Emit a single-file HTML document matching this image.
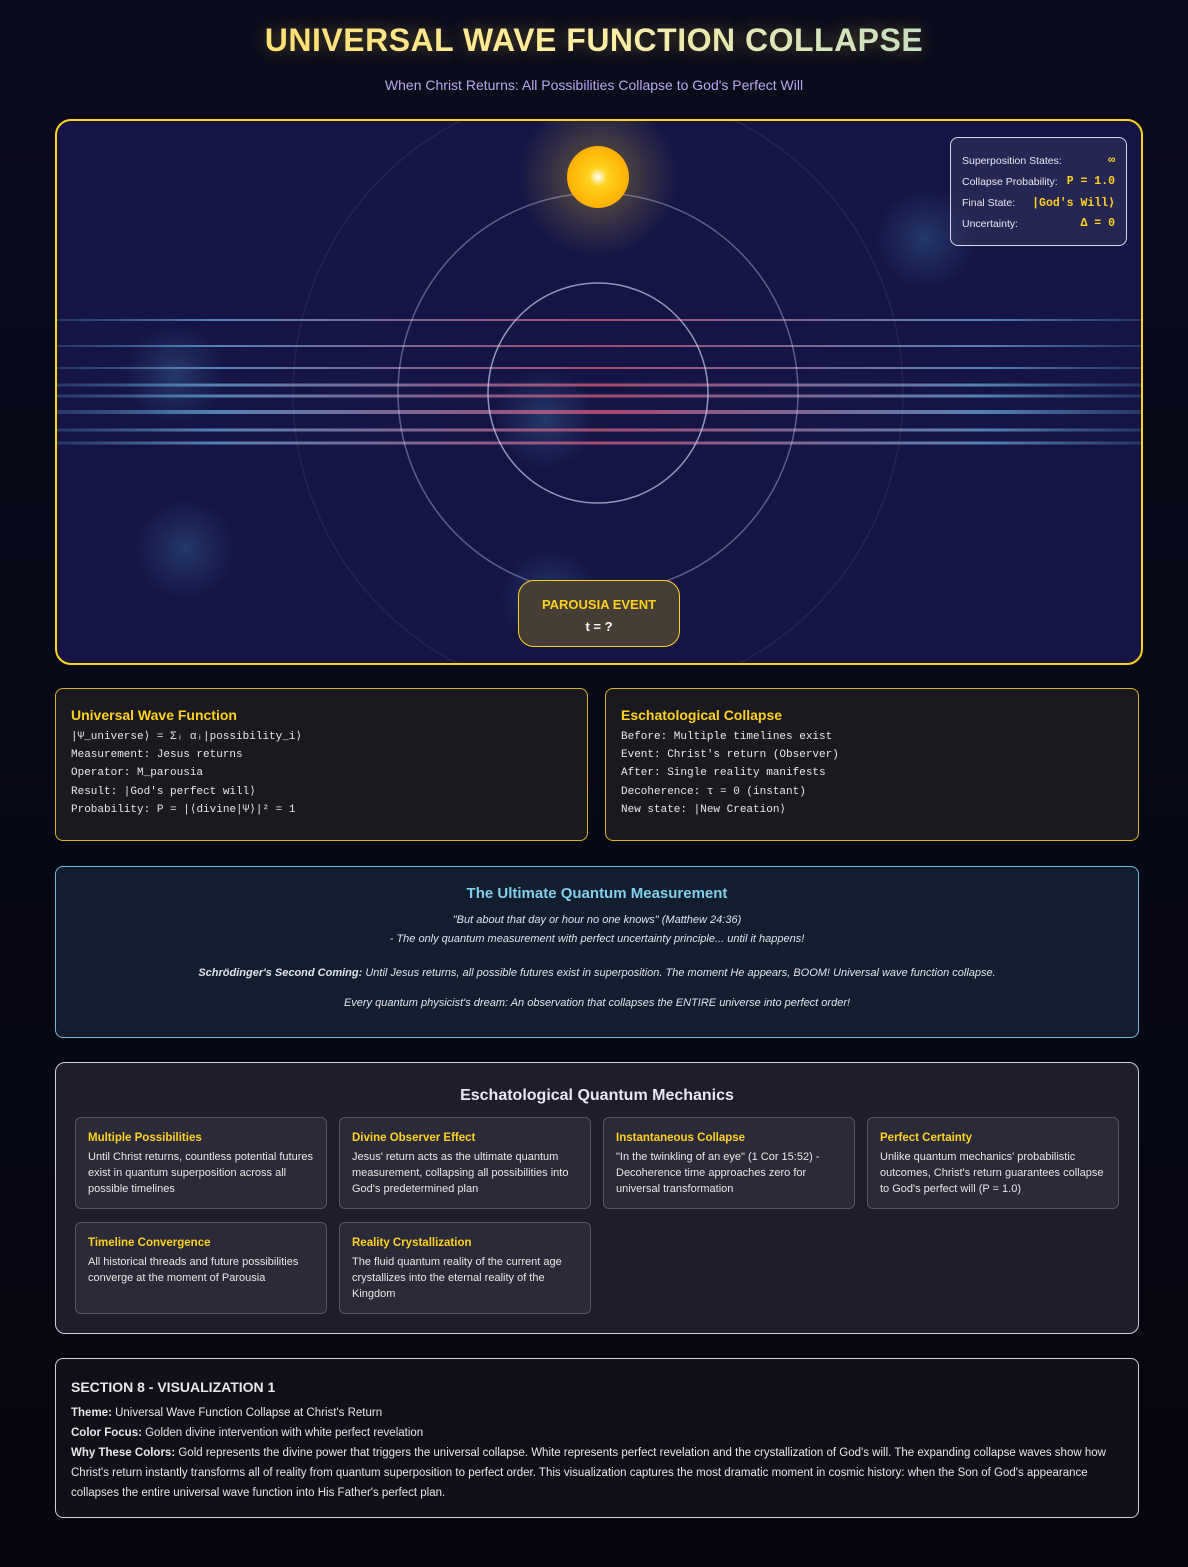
<!DOCTYPE html>
<html><head><meta charset="utf-8"><style>
*{box-sizing:border-box;margin:0;padding:0}
body{width:1188px;height:1567px;background:linear-gradient(#0a0b1c,#05060f);font-family:"Liberation Sans",sans-serif;color:#e8e8f0;position:relative;overflow:hidden}
h1{position:absolute;top:22px;left:0;width:1188px;text-align:center;font-size:32px;font-weight:bold;letter-spacing:0.5px;background:linear-gradient(90deg,#ffd54a,#fff3b0 50%,#8fd3e8);-webkit-background-clip:text;color:transparent;text-shadow:0 0 18px rgba(255,215,80,.35)}
.sub{position:absolute;top:77px;width:1188px;text-align:center;font-size:14px;color:#b7a9f0}
.viz{position:absolute;left:55px;top:119px;width:1088px;height:546px;border:2px solid #ffd21f;border-radius:16px;background:#141544;overflow:hidden}
.stats{position:absolute;left:893px;top:16px;width:177px;height:109px;border:1px solid #d8d8e8;border-radius:8px;background:rgba(60,60,100,.45);font-size:10.5px;padding:12px 11px}
.stats div{height:21px;display:flex;justify-content:space-between;align-items:center}
.stats span.v{font-family:"Liberation Mono",monospace;color:#ffd21f;font-size:11.5px;font-weight:bold}
.par{position:absolute;left:461px;top:459px;width:162px;height:67px;border:1px solid #ffd21f;border-radius:16px;background:#463d34;text-align:center}
.card{position:absolute;border:1px solid #d8b322;border-radius:8px;background:#1b1920;padding:18px 15px}
.card h3{color:#ffd21f;font-size:14px;margin-bottom:5px}
.card pre{font-family:"Liberation Mono",monospace;font-size:11px;line-height:18.2px;color:#e8e8e8}
.quote{position:absolute;left:55px;top:866px;width:1084px;height:172px;border:1px solid #6fb7d3;border-radius:8px;background:#131d30;text-align:center;font-style:italic;font-size:11px;color:#e0e4ee}
.mech{position:absolute;left:55px;top:1062px;width:1084px;height:272px;border:1px solid #cfcfd8;border-radius:10px;background:#1d1d2b}
.mc{position:absolute;width:252px;border:1px solid #555566;border-radius:6px;background:#2a2a38;padding:12px 12px;font-size:11px;line-height:16px;color:#e8e8e8}
.mc b{display:block;color:#ffd21f;font-size:11.5px;margin-bottom:3px}
.sec{position:absolute;left:55px;top:1358px;width:1084px;height:160px;border:1px solid #cfcfd8;border-radius:8px;background:#101018;padding:18px 15px;font-size:11.5px;line-height:20px;color:#e8e8e8}
</style></head><body>
<h1>UNIVERSAL WAVE FUNCTION COLLAPSE</h1>
<div class="sub">When Christ Returns: All Possibilities Collapse to God's Perfect Will</div>
<div class="viz">
<svg id="vz" width="1088" height="546" style="position:absolute;left:-2px;top:-2px"></svg>
<div class="stats">
<div><span>Superposition States:</span><span class="v">∞</span></div>
<div><span>Collapse Probability:</span><span class="v">P = 1.0</span></div>
<div><span>Final State:</span><span class="v">|God's Will⟩</span></div>
<div><span>Uncertainty:</span><span class="v">Δ = 0</span></div>
</div>
<div class="par"><div style="color:#ffd21f;font-weight:bold;font-size:13px;margin-top:16px">PAROUSIA EVENT</div><div style="font-weight:bold;font-size:13px;margin-top:7px;color:#fff">t = ?</div></div>
</div>
<div class="card" style="left:55px;top:688px;width:533px;height:153px"><h3>Universal Wave Function</h3><pre>|Ψ_universe⟩ = Σᵢ αᵢ|possibility_i⟩
Measurement: Jesus returns
Operator: M_parousia
Result: |God's perfect will⟩
Probability: P = |⟨divine|Ψ⟩|² = 1</pre></div>
<div class="card" style="left:605px;top:688px;width:534px;height:153px"><h3>Eschatological Collapse</h3><pre>Before: Multiple timelines exist
Event: Christ's return (Observer)
After: Single reality manifests
Decoherence: τ = 0 (instant)
New state: |New Creation⟩</pre></div>
<div class="quote">
<div style="font-style:normal;font-weight:bold;color:#7fcfec;font-size:15px;margin-top:18px">The Ultimate Quantum Measurement</div>
<div style="margin-top:9px;line-height:19px">"But about that day or hour no one knows" (Matthew 24:36)<br>- The only quantum measurement with perfect uncertainty principle... until it happens!</div>
<div style="margin-top:18px"><b>Schrödinger's Second Coming:</b> Until Jesus returns, all possible futures exist in superposition. The moment He appears, BOOM! Universal wave function collapse.</div>
<div style="margin-top:18px">Every quantum physicist's dream: An observation that collapses the ENTIRE universe into perfect order!</div>
</div>
<div class="mech">
<div style="text-align:center;font-weight:bold;font-size:16px;margin-top:24px">Eschatological Quantum Mechanics</div>
<div class="mc" style="left:19px;top:54px;height:92px"><b>Multiple Possibilities</b>Until Christ returns, countless potential futures exist in quantum superposition across all possible timelines</div>
<div class="mc" style="left:283px;top:54px;height:92px"><b>Divine Observer Effect</b>Jesus' return acts as the ultimate quantum measurement, collapsing all possibilities into God's predetermined plan</div>
<div class="mc" style="left:547px;top:54px;height:92px"><b>Instantaneous Collapse</b>"In the twinkling of an eye" (1 Cor 15:52) - Decoherence time approaches zero for universal transformation</div>
<div class="mc" style="left:811px;top:54px;height:92px"><b>Perfect Certainty</b>Unlike quantum mechanics' probabilistic outcomes, Christ's return guarantees collapse to God's perfect will (P = 1.0)</div>
<div class="mc" style="left:19px;top:159px;height:92px"><b>Timeline Convergence</b>All historical threads and future possibilities converge at the moment of Parousia</div>
<div class="mc" style="left:283px;top:159px;height:92px"><b>Reality Crystallization</b>The fluid quantum reality of the current age crystallizes into the eternal reality of the Kingdom</div>
</div>
<div class="sec">
<div style="font-weight:bold;font-size:14px;margin-bottom:6px">SECTION 8 - VISUALIZATION 1</div>
<div><b>Theme:</b> Universal Wave Function Collapse at Christ's Return</div>
<div><b>Color Focus:</b> Golden divine intervention with white perfect revelation</div>
<div><b>Why These Colors:</b> Gold represents the divine power that triggers the universal collapse. White represents perfect revelation and the crystallization of God's will. The expanding collapse waves show how Christ's return instantly transforms all of reality from quantum superposition to perfect order. This visualization captures the most dramatic moment in cosmic history: when the Son of God's appearance collapses the entire universal wave function into His Father's perfect plan.</div>
</div>
<script>
const waveYs=[201,227,249,266,277,293,311,324];
const waveWidths=[2,2,2,3,3,4,3,3];
const ringRadii=[110,200,305];
const ringOpacity=[0.7,0.4,0.08];
const glowX=[120,130,490,870,495];
const glowY=[255,430,300,120,480];
const svg=document.getElementById('vz');
const NS='http://www.w3.org/2000/svg';
const cx=543,cy=274;
svg.innerHTML='<defs><linearGradient id="wg" x1="0" x2="1"><stop offset="0" stop-color="#5fa8d8" stop-opacity=".3"/><stop offset=".15" stop-color="#6aa6d6"/><stop offset=".5" stop-color="#d85a7a"/><stop offset=".85" stop-color="#6aa6d6"/><stop offset="1" stop-color="#5fa8d8" stop-opacity=".3"/></linearGradient><radialGradient id="sg" cx=".5" cy=".5" r=".5"><stop offset="0" stop-color="#fff"/><stop offset=".3" stop-color="#ffd21f"/><stop offset="1" stop-color="#ffae00"/></radialGradient><radialGradient id="gl"><stop offset="0" stop-color="#ffd040" stop-opacity=".35"/><stop offset="1" stop-color="#ffd040" stop-opacity="0"/></radialGradient><radialGradient id="bl"><stop offset="0" stop-color="#4f86c0" stop-opacity=".3"/><stop offset="1" stop-color="#4f86c0" stop-opacity="0"/></radialGradient></defs>';
glowX.forEach((x,i)=>{const c=document.createElementNS(NS,'circle');


c.setAttribute('cx',x);c.setAttribute('cy',glowY[i]);c.setAttribute('r',50);c.setAttribute('fill','url(#bl)');svg.appendChild(c);});
waveYs.forEach((y,i)=>{const r=document.createElementNS(NS,'rect');


r.setAttribute('x',0);r.setAttribute('y',y-waveWidths[i]/2);r.setAttribute('width',1088);r.setAttribute('height',waveWidths[i]);r.setAttribute('fill','url(#wg)');r.setAttribute('opacity',0.75);svg.appendChild(r);});
ringRadii.forEach((rr,i)=>{const c=document.createElementNS(NS,'circle');


c.setAttribute('cx',cx);c.setAttribute('cy',cy);c.setAttribute('r',rr);c.setAttribute('fill','none');c.setAttribute('stroke','#c8d0f0');c.setAttribute('stroke-opacity',ringOpacity[i]);c.setAttribute('stroke-width',1.5);svg.appendChild(c);});
const g=document.createElementNS(NS,'circle');


g.setAttribute('cx',cx);g.setAttribute('cy',58);g.setAttribute('r',80);g.setAttribute('fill','url(#gl)');svg.appendChild(g);
const s=document.createElementNS(NS,'circle');


s.setAttribute('cx',cx);s.setAttribute('cy',58);s.setAttribute('r',31);s.setAttribute('fill','url(#sg)');svg.appendChild(s);
</script>
</body></html>
